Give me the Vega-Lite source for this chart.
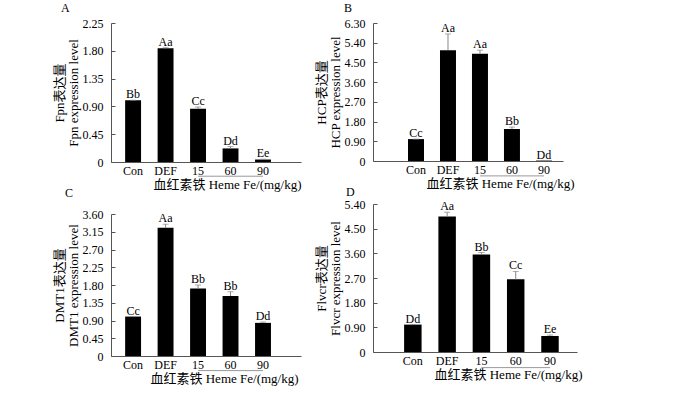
{
  "$schema": "https://vega.github.io/schema/vega-lite/v6.json",
  "padding": {"left": 52, "top": 2, "right": 5, "bottom": 5},
  "datasets": {
    "A": [
      {"g": "Con", "v": 1.0, "e": 1.0, "lab": "Bb"},
      {"g": "DEF", "v": 1.84, "e": 1.85, "lab": "Aa"},
      {"g": "15", "v": 0.86, "e": 0.89, "lab": "Cc"},
      {"g": "60", "v": 0.22, "e": 0.25, "lab": "Dd"},
      {"g": "90", "v": 0.04, "e": 0.045, "lab": "Ee"}
    ],
    "B": [
      {"g": "Con", "v": 1.0, "e": 1.0, "lab": "Cc"},
      {"g": "DEF", "v": 5.06, "e": 5.8, "lab": "Aa"},
      {"g": "15", "v": 4.9, "e": 5.06, "lab": "Aa"},
      {"g": "60", "v": 1.46, "e": 1.55, "lab": "Bb"},
      {"g": "90", "v": 0.02, "e": 0.02, "lab": "Dd"}
    ],
    "C": [
      {"g": "Con", "v": 1.0, "e": 1.0, "lab": "Cc"},
      {"g": "DEF", "v": 3.25, "e": 3.34, "lab": "Aa"},
      {"g": "15", "v": 1.71, "e": 1.8, "lab": "Bb"},
      {"g": "60", "v": 1.52, "e": 1.63, "lab": "Bb"},
      {"g": "90", "v": 0.84, "e": 0.86, "lab": "Dd"}
    ],
    "D": [
      {"g": "Con", "v": 1.0, "e": 1.0, "lab": "Dd"},
      {"g": "DEF", "v": 4.94, "e": 5.1, "lab": "Aa"},
      {"g": "15", "v": 3.56, "e": 3.63, "lab": "Bb"},
      {"g": "60", "v": 2.65, "e": 2.94, "lab": "Cc"},
      {"g": "90", "v": 0.585, "e": 0.62, "lab": "Ee"}
    ],
    "br": [{"g": "15", "g2": "90"}]
  },
  "config": {
    "font": "Liberation Serif, Noto Sans CJK SC",
    "view": {"stroke": null},
    "axis": {
      "labelFont": "Liberation Serif, Noto Sans CJK SC",
      "titleFont": "Liberation Serif, Noto Sans CJK SC",
      "labelFontSize": 12,
      "titleFontSize": 12,
      "titleFontWeight": "normal",
      "labelColor": "#000",
      "titleColor": "#000",
      "domainColor": "#555",
      "tickColor": "#555",
      "grid": false
    },
    "title": {"font": "Liberation Serif", "fontSize": 12, "fontWeight": "normal", "color": "#000"},
    "text": {"font": "Liberation Serif", "fontSize": 12}
  },
  "spacing": 13,
  "hconcat": [
    {
      "spacing": -4,
      "vconcat": [
        {
          "width": 190, "height": 139,
          "title": {"text": "A", "anchor": "start", "frame": "group", "dx": -50, "offset": 2},
          "data": {"name": "A"},
          "resolve": {"axis": {"y": "independent"}},
          "encoding": {
            "x": {"field": "g", "type": "nominal", "sort": null,
              "scale": {"domain": ["Con", "DEF", "15", "60", "90"], "paddingInner": 0.51, "paddingOuter": 0.68, "align": 0.32},
              "axis": {"title": "血红素铁 Heme Fe/(mg/kg)", "labelAngle": 0, "ticks": false, "labelPadding": 3, "titlePadding": 2, "titleX": 116, "titleFontSize": 13}}
          },
          "layer": [
            {"mark": {"type": "bar", "color": "#000"},
             "encoding": {"y": {"field": "v", "type": "quantitative", "scale": {"domain": [0, 2.25], "nice": false},
               "axis": {"title": ["Fpn表达量", "Fpn expression level"], "values": [0, 0.45, 0.9, 1.35, 1.8, 2.25], "labelOverlap": false, "labelExpr": "datum.value == 0 ? '0' : format(datum.value, '.2f')", "tickSize": -4, "labelPadding": 12, "titlePadding": 2, "titleFontSize": 13, "titleLineHeight": 14}}}},
            {"mark": {"type": "rule", "color": "#888"}, "encoding": {"y": {"field": "v", "type": "quantitative", "axis": null}, "y2": {"field": "e"}}},
            {"mark": {"type": "tick", "color": "#888", "size": 6, "thickness": 1}, "encoding": {"y": {"field": "e", "type": "quantitative", "axis": null}}},
            {"mark": {"type": "text", "baseline": "alphabetic", "dy": -2}, "encoding": {"y": {"field": "e", "type": "quantitative", "axis": null}, "text": {"field": "lab"}}},
            {"data": {"name": "br"}, "mark": {"type": "rule", "color": "#999"}, "encoding": {"x2": {"field": "g2"}, "y": {"datum": -0.23, "axis": null}}}
          ]
        },
        {
          "width": 190, "height": 142,
          "title": {"text": "C", "anchor": "start", "frame": "group", "dx": -46, "offset": 8},
          "data": {"name": "C"},
          "resolve": {"axis": {"y": "independent"}},
          "encoding": {
            "x": {"field": "g", "type": "nominal", "sort": null,
              "scale": {"domain": ["Con", "DEF", "15", "60", "90"], "paddingInner": 0.51, "paddingOuter": 0.68, "align": 0.32},
              "axis": {"title": "血红素铁 Heme Fe/(mg/kg)", "labelAngle": 0, "ticks": false, "labelPadding": 3, "titlePadding": 2, "titleX": 113, "titleFontSize": 13}}
          },
          "layer": [
            {"mark": {"type": "bar", "color": "#000"},
             "encoding": {"y": {"field": "v", "type": "quantitative", "scale": {"domain": [0, 3.6], "nice": false},
               "axis": {"title": ["DMT1表达量", "DMT1 expression level"], "values": [0, 0.45, 0.9, 1.35, 1.8, 2.25, 2.7, 3.15, 3.6], "labelOverlap": false, "labelExpr": "datum.value == 0 ? '0' : format(datum.value, '.2f')", "tickSize": -4, "labelPadding": 12, "titlePadding": 2, "titleFontSize": 13, "titleLineHeight": 14}}}},
            {"mark": {"type": "rule", "color": "#888"}, "encoding": {"y": {"field": "v", "type": "quantitative", "axis": null}, "y2": {"field": "e"}}},
            {"mark": {"type": "tick", "color": "#888", "size": 6, "thickness": 1}, "encoding": {"y": {"field": "e", "type": "quantitative", "axis": null}}},
            {"mark": {"type": "text", "baseline": "alphabetic", "dy": -2}, "encoding": {"y": {"field": "e", "type": "quantitative", "axis": null}, "text": {"field": "lab"}}},
            {"data": {"name": "br"}, "mark": {"type": "rule", "color": "#999"}, "encoding": {"x2": {"field": "g2"}, "y": {"datum": -0.37, "axis": null}}}
          ]
        }
      ]
    },
    {
      "spacing": -4,
      "vconcat": [
        {
          "width": 190, "height": 138,
          "title": {"text": "B", "anchor": "start", "frame": "group", "dx": -29, "offset": 2},
          "data": {"name": "B"},
          "resolve": {"axis": {"y": "independent"}},
          "encoding": {
            "x": {"field": "g", "type": "nominal", "sort": null,
              "scale": {"domain": ["Con", "DEF", "15", "60", "90"], "paddingInner": 0.5, "paddingOuter": 0.72, "align": 0.76},
              "axis": {"title": "血红素铁 Heme Fe/(mg/kg)", "labelAngle": 0, "ticks": false, "labelPadding": 3, "titlePadding": 2, "titleX": 127, "titleFontSize": 13}}
          },
          "layer": [
            {"mark": {"type": "bar", "color": "#000"},
             "encoding": {"y": {"field": "v", "type": "quantitative", "scale": {"domain": [0, 6.3], "nice": false},
               "axis": {"title": ["HCP表达量", "HCP expression level"], "values": [0, 0.9, 1.8, 2.7, 3.6, 4.5, 5.4, 6.3], "labelOverlap": false, "labelExpr": "datum.value == 0 ? '0' : format(datum.value, '.2f')", "tickSize": -4, "labelPadding": 12, "titlePadding": 2, "titleFontSize": 13, "titleLineHeight": 14}}}},
            {"mark": {"type": "rule", "color": "#888"}, "encoding": {"y": {"field": "v", "type": "quantitative", "axis": null}, "y2": {"field": "e"}}},
            {"mark": {"type": "tick", "color": "#888", "size": 6, "thickness": 1}, "encoding": {"y": {"field": "e", "type": "quantitative", "axis": null}}},
            {"mark": {"type": "text", "baseline": "alphabetic", "dy": -2}, "encoding": {"y": {"field": "e", "type": "quantitative", "axis": null}, "text": {"field": "lab"}}},
            {"data": {"name": "br"}, "mark": {"type": "rule", "color": "#999"}, "encoding": {"x2": {"field": "g2"}, "y": {"datum": -0.68, "axis": null}}}
          ]
        },
        {
          "width": 204, "height": 148,
          "title": {"text": "D", "anchor": "start", "frame": "group", "dx": -27, "offset": -1},
          "data": {"name": "D"},
          "resolve": {"axis": {"y": "independent"}},
          "encoding": {
            "x": {"field": "g", "type": "nominal", "sort": null,
              "scale": {"domain": ["Con", "DEF", "15", "60", "90"], "paddingInner": 0.49, "paddingOuter": 0.72, "align": 0.63},
              "axis": {"title": "血红素铁 Heme Fe/(mg/kg)", "labelAngle": 0, "ticks": false, "labelPadding": 3, "titlePadding": 2, "titleX": 135, "titleFontSize": 13}}
          },
          "layer": [
            {"mark": {"type": "bar", "color": "#000"},
             "encoding": {"y": {"field": "v", "type": "quantitative", "scale": {"domain": [0, 5.4], "nice": false},
               "axis": {"title": ["Flvcr表达量", "Flvcr expression level"], "values": [0, 0.9, 1.8, 2.7, 3.6, 4.5, 5.4], "labelOverlap": false, "labelExpr": "datum.value == 0 ? '0' : format(datum.value, '.2f')", "tickSize": -4, "labelPadding": 12, "titlePadding": 2, "titleFontSize": 13, "titleLineHeight": 14}}}},
            {"mark": {"type": "rule", "color": "#888"}, "encoding": {"y": {"field": "v", "type": "quantitative", "axis": null}, "y2": {"field": "e"}}},
            {"mark": {"type": "tick", "color": "#888", "size": 6, "thickness": 1}, "encoding": {"y": {"field": "e", "type": "quantitative", "axis": null}}},
            {"mark": {"type": "text", "baseline": "alphabetic", "dy": -2}, "encoding": {"y": {"field": "e", "type": "quantitative", "axis": null}, "text": {"field": "lab"}}},
            {"data": {"name": "br"}, "mark": {"type": "rule", "color": "#999"}, "encoding": {"x2": {"field": "g2"}, "y": {"datum": -0.57, "axis": null}}}
          ]
        }
      ]
    }
  ]
}
